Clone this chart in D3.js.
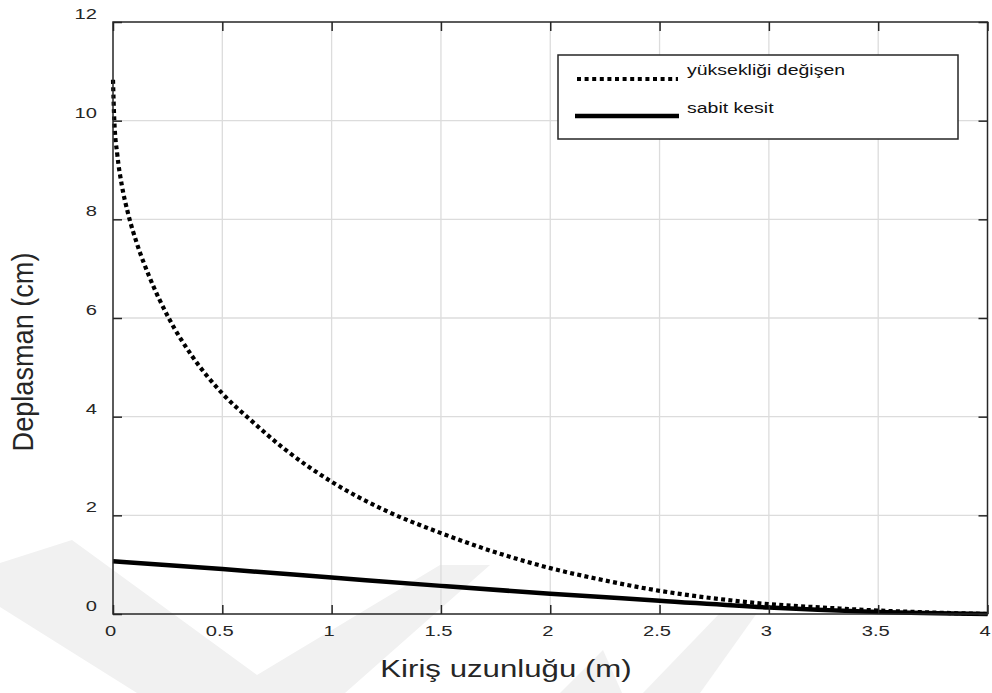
<!DOCTYPE html>
<html>
<head>
<meta charset="utf-8">
<script src="https://cdn.jsdelivr.net/npm/d3@7"></script>
<style>
  html, body { margin: 0; padding: 0; background: #fff; }
  svg { display: block; font-family: "Liberation Sans", Arial, Helvetica, sans-serif; }
</style>
</head>
<body>
<svg id="chart" width="992" height="693"></svg>
<script>
// Beam length (m) tick values and displacement (cm) tick values
const xTicks = [0, 0.5, 1, 1.5, 2, 2.5, 3, 3.5, 4];
const yTicks = [0, 2, 4, 6, 8, 10, 12];

// Variable-height beam ("yüksekliği değişen")
const variableX = [0, 0.006, 0.02, 0.04, 0.07, 0.11, 0.165, 0.256, 0.363, 0.5, 0.63, 0.78, 1.0, 1.24, 1.5, 1.75, 2.0, 2.25, 2.5, 2.78, 3.0, 3.25, 3.5, 3.75, 4.0];
const variableY = [10.83, 10.0, 9.3, 8.7, 8.1, 7.5, 6.85, 5.99, 5.22, 4.47, 3.93, 3.36, 2.68, 2.11, 1.64, 1.25, 0.93, 0.68, 0.47, 0.30, 0.20, 0.13, 0.07, 0.03, 0.0];

// Constant cross-section beam ("sabit kesit")
const constantX = [0, 0.5, 1, 1.5, 2, 2.5, 3, 3.5, 4];
const constantY = [1.07, 0.91, 0.74, 0.57, 0.41, 0.27, 0.13, 0.04, 0.0];

const seriesNames = ["yüksekliği değişen", "sabit kesit"];
const xTitle = "Kiriş uzunluğu (m)";
const yTitle = "Deplasman (cm)";

// Layout
const W = 992, H = 693;
const plot = { left: 113, right: 987.5, top: 22, bottom: 614 };
const SX = 1.3;               // horizontal stretch of the text glyphs
const ink = "#262626";
const font = "Liberation Sans, Arial, Helvetica, sans-serif";

const svg = d3.select("#chart");
svg.append("rect").attr("width", W).attr("height", H).attr("fill", "#fff");

// Faint background watermark bands
const watermark = [
  [[0, 563], [72, 540], [257, 675], [440, 565], [490, 565], [345, 693], [137, 693], [0, 607]],
  [[643, 693], [720, 613], [757, 613], [700, 693]],
  [[560, 693], [603, 650], [622, 693]]
];
svg.append("g").selectAll("path").data(watermark).join("path")
  .attr("d", d => "M" + d.map(p => p.join(",")).join("L") + "Z")
  .attr("fill", "#f1f1f1");

const x = d3.scaleLinear().domain([0, 4]).range([plot.left, plot.right]);
const y = d3.scaleLinear().domain([0, 12]).range([plot.bottom, plot.top]);

// Grid
const grid = svg.append("g").attr("stroke", "#dcdcdc").attr("stroke-width", 1.3);
grid.selectAll("line.v").data(xTicks.slice(1, -1)).join("line")
  .attr("x1", d => x(d)).attr("x2", d => x(d))
  .attr("y1", plot.top).attr("y2", plot.bottom);
grid.selectAll("line.h").data(yTicks.slice(1, -1)).join("line")
  .attr("y1", d => y(d)).attr("y2", d => y(d))
  .attr("x1", plot.left).attr("x2", plot.right);

// Curves
const line = d3.line().x(d => x(d[0])).y(d => y(d[1])).curve(d3.curveMonotoneX);
const variablePts = variableX.map((v, i) => [v, variableY[i]]);
const constantPts = constantX.map((v, i) => [v, constantY[i]]);

svg.append("path").datum(constantPts)
  .attr("d", line).attr("fill", "none")
  .attr("stroke", "#000").attr("stroke-width", 4.5);

svg.append("path").datum(variablePts)
  .attr("d", line).attr("fill", "none")
  .attr("stroke", "#000").attr("stroke-width", 4.2)
  .attr("stroke-dasharray", "4 3.3");

// Axes (ticks point inward on all four sides)
function styleAxis(g) {
  g.select(".domain").remove();
  g.selectAll(".tick line").attr("stroke", ink).attr("stroke-width", 1.5);
  g.selectAll(".tick text").attr("fill", ink).attr("font-size", 15.5).attr("font-family", font);
}

const fmt = d3.format("");
const gBottom = svg.append("g").attr("transform", `translate(0,${plot.bottom})`)
  .call(d3.axisBottom(x).tickValues(xTicks).tickFormat(fmt).tickSizeInner(-9).tickSizeOuter(0))
  .call(styleAxis);
gBottom.selectAll(".tick text")
  .attr("x", 0).attr("y", 0).attr("dy", "0.71em")
  .attr("transform", `translate(-3,11) scale(${SX},1)`);

const gLeft = svg.append("g").attr("transform", `translate(${plot.left},0)`)
  .call(d3.axisLeft(y).tickValues(yTicks).tickFormat(fmt).tickSizeInner(-9).tickSizeOuter(0))
  .call(styleAxis);
gLeft.selectAll(".tick text")
  .attr("x", 0).attr("y", 0).attr("dy", "0.35em").attr("text-anchor", "end")
  .attr("transform", `translate(-16,-9) scale(${SX},1)`);

svg.append("g").attr("transform", `translate(0,${plot.top})`)
  .call(d3.axisTop(x).tickValues(xTicks).tickFormat("").tickSizeInner(-9).tickSizeOuter(0))
  .call(styleAxis);
svg.append("g").attr("transform", `translate(${plot.right},0)`)
  .call(d3.axisRight(y).tickValues(yTicks).tickFormat("").tickSizeInner(-9).tickSizeOuter(0))
  .call(styleAxis);

// Axes box
svg.append("rect")
  .attr("x", plot.left).attr("y", plot.top)
  .attr("width", plot.right - plot.left).attr("height", plot.bottom - plot.top)
  .attr("fill", "none").attr("stroke", ink).attr("stroke-width", 1.5);

// Axis titles
svg.append("text")
  .attr("transform", `translate(506,677) scale(${SX},1)`)
  .attr("text-anchor", "middle").attr("font-size", 24).attr("fill", ink)
  .text(xTitle);

svg.append("text")
  .attr("transform", "translate(33,352) rotate(-90) scale(1.13,1.26)")
  .attr("text-anchor", "middle").attr("font-size", 24).attr("fill", ink)
  .text(yTitle);

// Legend
const lg = svg.append("g");
lg.append("rect").attr("x", 558).attr("y", 55).attr("width", 400).attr("height", 84)
  .attr("fill", "#fff").attr("stroke", ink).attr("stroke-width", 1.5);
lg.append("line").attr("x1", 577).attr("x2", 678).attr("y1", 79).attr("y2", 79)
  .attr("stroke", "#000").attr("stroke-width", 4).attr("stroke-dasharray", "4 3.6");
lg.append("line").attr("x1", 575).attr("x2", 679).attr("y1", 116).attr("y2", 116)
  .attr("stroke", "#000").attr("stroke-width", 4.5);
lg.selectAll("text").data(seriesNames).join("text")
  .attr("transform", (d, i) => `translate(687,${i === 0 ? 75 : 112.5}) scale(${SX},1)`)
  .attr("font-size", 15).attr("fill", "#111")
  .text(d => d);
</script>
</body>
</html>
